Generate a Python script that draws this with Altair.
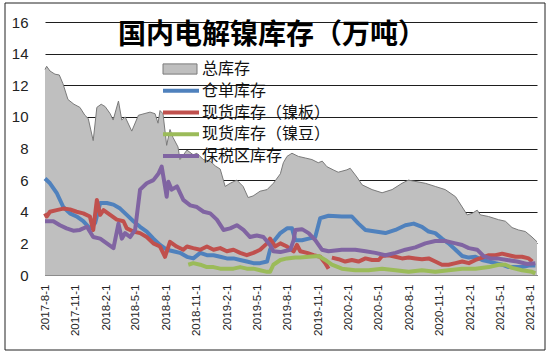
import altair as alt
import pandas as pd

# ---------------- data ----------------
series_names = ["总库存", "仓单库存", "现货库存（镍板）", "现货库存（镍豆）", "保税区库存"]
series_colors = ["#BFBFBF", "#4F81BD", "#C0504D", "#9BBB59", "#8064A2"]

tick_dates = ["2017-08-01", "2017-11-01", "2018-02-01", "2018-05-01", "2018-08-01",
              "2018-11-01", "2019-02-01", "2019-05-01", "2019-08-01", "2019-11-01",
              "2020-02-01", "2020-05-01", "2020-08-01", "2020-11-01", "2021-02-01",
              "2021-05-01", "2021-08-01"]
y_ticks = [0, 2, 4, 6, 8, 10, 12, 14, 16]

total_dates = ["2017-08-01","2017-08-06","2017-08-16","2017-08-31","2017-09-13","2017-09-24","2017-10-09","2017-10-27",
               "2017-11-14","2017-11-29","2017-12-09","2017-12-24","2018-01-04","2018-01-17","2018-01-29","2018-02-13",
               "2018-02-22","2018-03-10","2018-03-20","2018-03-30","2018-04-19","2018-05-09","2018-05-26","2018-06-13",
               "2018-06-28","2018-07-07","2018-07-13","2018-07-22","2018-08-02","2018-08-12","2018-08-21","2018-09-05",
               "2018-09-11","2018-10-02","2018-10-21","2018-11-01","2018-11-20","2018-12-11","2018-12-26","2019-01-10",
               "2019-01-25","2019-02-09","2019-03-01","2019-03-20","2019-04-04","2019-04-19","2019-05-10","2019-05-31",
               "2019-06-19","2019-07-10","2019-07-19","2019-07-30","2019-08-14","2019-09-02","2019-09-23","2019-10-13",
               "2019-11-01","2019-11-13","2019-11-27","2019-12-16","2019-12-31","2020-01-26","2020-02-05","2020-02-25",
               "2020-03-12","2020-04-11","2020-05-11","2020-06-10","2020-07-10","2020-07-29","2020-08-24","2020-09-18",
               "2020-10-18","2020-11-17","2020-12-18","2021-01-07","2021-01-22","2021-02-06","2021-02-21","2021-03-03",
               "2021-03-27","2021-04-26","2021-05-17","2021-06-06","2021-06-25","2021-07-16","2021-08-05","2021-08-20"]
total_vals = [13.0,13.2,12.9,12.7,12.65,12.1,11.1,10.8,10.6,10.1,9.9,8.5,10.6,10.8,10.65,10.2,9.8,11.0,9.8,10.0,
              9.1,10.1,10.2,10.3,10.2,9.6,10.4,10.2,8.2,9.2,8.7,8.1,7.3,7.9,7.6,7.7,7.3,7.2,6.9,6.7,
              5.6,5.8,6.0,5.6,4.9,5.0,5.3,5.4,5.8,6.4,7.1,7.5,7.7,7.5,7.4,7.3,7.1,7.2,6.85,6.65,
              6.5,6.65,6.75,6.2,5.7,5.4,5.2,5.4,5.8,6.0,5.9,5.8,5.6,5.4,4.95,4.3,3.8,3.9,4.1,3.8,
              3.7,3.5,3.4,3.0,2.85,2.75,2.4,2.1]

blue_dates = ["2017-08-01","2017-08-16","2017-09-05","2017-09-25","2017-10-15","2017-11-04","2017-11-24","2017-12-14","2017-12-30",
              "2018-01-14","2018-02-03","2018-02-23","2018-03-15","2018-04-04","2018-04-24","2018-05-14","2018-06-03","2018-06-23",
              "2018-07-13","2018-08-02","2018-08-22","2018-09-11","2018-10-02","2018-10-21","2018-11-11","2018-12-01","2018-12-21",
              "2019-01-10","2019-01-30","2019-02-19","2019-03-11","2019-03-31","2019-04-20","2019-05-10","2019-05-31","2019-06-09",
              "2019-06-19","2019-07-10","2019-07-30","2019-08-14","2019-08-24","2019-09-13","2019-10-03","2019-10-23","2019-11-07",
              "2019-12-02","2020-01-11","2020-02-10","2020-03-01","2020-03-22","2020-04-21","2020-05-21","2020-06-20","2020-07-20",
              "2020-08-14","2020-09-08","2020-09-28","2020-10-18","2020-11-07","2020-11-27","2020-12-18","2021-01-07","2021-01-27",
              "2021-02-16","2021-03-08","2021-03-28","2021-04-17","2021-05-07","2021-05-27","2021-06-16","2021-07-06","2021-07-26",
              "2021-08-15"]
blue_vals = [6.1,5.8,5.2,4.3,3.9,3.7,3.4,2.95,3.3,
             4.55,4.55,4.45,4.2,3.8,3.4,3.05,2.75,2.3,1.9,1.6,1.5,1.4,1.15,1.05,1.4,1.25,1.25,
             1.15,1.05,1.05,0.95,0.85,0.75,0.75,0.85,1.6,2.1,2.65,2.95,2.95,2.2,2.2,2.3,2.4,3.6,3.75,
             3.7,3.7,3.25,2.85,2.75,2.65,2.85,3.15,3.25,3.05,2.75,2.65,2.3,2.0,1.6,
             1.2,1.1,1.15,0.95,0.85,0.75,0.65,0.5,0.5,0.5,0.6,0.6]

# None marks the break in the spot (plate) series
red_dates = ["2017-08-01","2017-08-06","2017-08-16","2017-09-05","2017-09-25","2017-10-15","2017-11-04","2017-11-24","2017-12-14","2017-12-24",
             "2018-01-04","2018-01-14","2018-01-24","2018-02-13","2018-03-05","2018-03-25","2018-04-04","2018-04-24","2018-05-14","2018-06-03",
             "2018-06-23","2018-07-13","2018-07-28","2018-08-12","2018-09-01","2018-09-21","2018-10-02","2018-10-21","2018-11-11","2018-12-01",
             "2018-12-21","2019-01-10","2019-01-30","2019-02-19","2019-03-11","2019-03-31","2019-04-20","2019-05-10","2019-05-31","2019-06-09",
             "2019-06-24","2019-07-10","2019-07-30","2019-08-19","2019-08-29","2019-09-08","2019-09-28","2019-10-18","2019-11-07","2019-11-22",
             "2019-12-02","2019-12-07","2019-12-12","2020-01-01","2020-01-21","2020-02-10","2020-03-01","2020-03-22","2020-04-11","2020-05-01",
             "2020-05-11","2020-05-31","2020-06-20","2020-07-10","2020-07-30","2020-08-19","2020-09-08","2020-09-28","2020-10-18","2020-11-07",
             "2020-11-27","2020-12-18","2021-01-07","2021-01-27","2021-02-16","2021-03-08","2021-03-28","2021-04-17","2021-05-07","2021-05-27",
             "2021-06-16","2021-07-06","2021-07-26","2021-08-06"]
red_vals = [3.9,3.7,4.0,4.1,4.2,4.15,4.0,3.9,3.7,2.85,
            4.75,3.8,4.1,3.8,3.5,3.4,2.95,2.75,2.65,2.4,
            2.0,1.8,1.15,2.1,1.8,1.6,1.8,1.7,1.6,1.8,
            1.6,1.7,1.5,1.6,1.4,1.25,1.4,1.6,2.0,2.3,
            1.8,2.0,1.8,1.5,1.9,1.5,1.4,1.25,1.15,0.75,
            0.4,None,1.1,1.0,0.85,0.95,0.85,1.05,0.95,0.95,
            1.2,1.25,1.15,1.05,1.1,1.05,1.0,1.05,0.85,0.65,
            0.65,0.75,0.85,0.75,0.95,1.1,1.25,1.25,1.35,1.25,
            1.15,1.15,1.05,0.85]

green_dates = ["2018-10-06","2018-10-21","2018-11-11","2018-12-01","2018-12-21",
               "2019-01-10","2019-01-30","2019-02-19","2019-03-11","2019-03-31","2019-04-20","2019-05-10","2019-05-31","2019-06-09",
               "2019-06-19","2019-07-10","2019-07-30","2019-08-24","2019-09-08","2019-10-03","2019-11-02","2019-11-22","2019-12-12",
               "2020-01-11","2020-02-20","2020-03-31","2020-05-11","2020-06-20","2020-07-30","2020-09-08","2020-10-18","2020-11-27",
               "2021-01-07","2021-02-16","2021-03-28","2021-04-27","2021-05-17","2021-06-06","2021-07-06","2021-08-05","2021-08-15"]
green_vals = [0.65,0.75,0.65,0.5,0.5,
              0.4,0.4,0.4,0.5,0.4,0.4,0.3,0.2,0.2,0.65,0.95,1.05,1.1,1.1,1.15,1.2,0.95,0.65,
              0.4,0.3,0.3,0.4,0.3,0.2,0.3,0.2,0.3,
              0.4,0.4,0.5,0.65,0.65,0.45,0.3,0.2,0.1]

purple_dates = ["2017-08-01","2017-08-26","2017-09-15","2017-10-05","2017-10-25","2017-11-14","2017-12-05","2017-12-24",
                "2018-01-14","2018-02-03","2018-02-23","2018-03-10","2018-03-20","2018-03-30","2018-04-14","2018-04-29",
                "2018-05-14","2018-06-03","2018-06-23","2018-07-08","2018-07-18","2018-07-28","2018-08-02","2018-08-07",
                "2018-08-17","2018-09-02","2018-09-21","2018-10-12","2018-11-01","2018-11-21","2018-12-11","2018-12-31",
                "2019-01-20","2019-02-09","2019-03-01","2019-03-21","2019-04-10","2019-04-30","2019-05-20","2019-06-09",
                "2019-06-19","2019-07-10","2019-08-09","2019-08-19","2019-08-24","2019-09-13","2019-10-03","2019-10-23",
                "2019-11-12","2019-12-02","2020-01-11","2020-02-20","2020-03-22","2020-04-21","2020-05-21","2020-06-20",
                "2020-07-20","2020-08-19","2020-09-18","2020-10-18","2020-11-17","2020-12-18","2021-01-07","2021-01-27",
                "2021-02-21","2021-03-12","2021-04-02","2021-04-22","2021-05-22","2021-06-21","2021-07-21","2021-08-15"]
purple_vals = [3.4,3.4,3.15,2.95,2.8,2.85,3.05,2.4,
               2.3,2.0,1.7,3.25,2.3,2.65,2.4,2.85,5.4,5.8,6.0,6.4,6.85,5.6,4.95,5.9,5.4,5.6,4.75,4.4,4.3,4.0,3.9,3.5,
               2.85,2.95,3.15,2.85,2.4,2.5,2.4,1.9,1.5,1.45,1.6,2.2,2.85,2.9,2.65,2.2,1.6,1.5,
               1.6,1.6,1.5,1.4,1.25,1.4,1.6,1.75,2.0,2.15,2.15,2.0,
               1.9,1.7,1.6,1.2,1.05,1.05,0.95,0.85,0.7,0.75]

title_text = "国内电解镍库存（万吨）"


# ---------------- helpers ----------------
def make_df(name, dates, vals):
    assert len(dates) == len(vals), name
    df = pd.DataFrame({"date": dates, "value": vals})
    df["series"] = name
    df["seg"] = df["value"].isna().cumsum()
    return df.dropna()


def dt(s):
    y, m, d = (int(p) for p in s.split("-"))
    return alt.DateTime(year=y, month=m, date=d, utc=True)


x_enc = alt.X(
    "date:T",
    scale=alt.Scale(type="utc", domain=[dt(total_dates[0]), dt(total_dates[-1])]),
    axis=alt.Axis(
        values=[dt(s) for s in tick_dates],
        format="%Y-%-m-%-d",
        labelAngle=-90,
        labelFont="Liberation Sans",
        labelFontSize=11.5,
        labelColor="#222222",
        labelPadding=9,
        ticks=False,
        grid=False,
        domain=True,
        domainColor="#8C8C8C",
        title=None,
        labelOverlap=False,
    ),
)
y_enc = alt.Y(
    "value:Q",
    scale=alt.Scale(domain=[0, 16], nice=False),
    axis=alt.Axis(
        values=y_ticks,
        grid=True,
        gridColor="#1E1E1E",
        gridWidth=1.2,
        domain=False,
        ticks=False,
        labelFont="Liberation Sans",
        labelFontSize=15,
        labelColor="#222222",
        labelPadding=17,
        title=None,
    ),
)

total_df = make_df(series_names[0], total_dates, total_vals)
area = alt.Chart(total_df).mark_area(
    color=series_colors[0], opacity=1,
    line={"color": "#7A7A7A", "strokeWidth": 1},
).encode(x=x_enc, y=y_enc)

line_layers = []
for name, col, dts, vls in [
    (series_names[1], series_colors[1], blue_dates, blue_vals),
    (series_names[2], series_colors[2], red_dates, red_vals),
    (series_names[3], series_colors[3], green_dates, green_vals),
    (series_names[4], series_colors[4], purple_dates, purple_vals),
]:
    line_layers.append(
        alt.Chart(make_df(name, dts, vls)).mark_line(
            color=col, strokeWidth=4, strokeJoin="round"
        ).encode(x=x_enc, y=y_enc, detail="seg:N")
    )

main = alt.layer(area, *line_layers)

# ---------------- legend (inside the plot) ----------------
legend_df = pd.DataFrame({"name": series_names})
leg_y = alt.Y("name:N", scale=alt.Scale(type="point", domain=series_names, range=[47, 134], padding=0), axis=None)
leg_color = alt.Color("name:N", scale=alt.Scale(domain=series_names, range=series_colors), legend=None)

leg_box = alt.Chart(legend_df).transform_filter(
    alt.datum.name == series_names[0]
).mark_point(
    shape="M-1,-0.3H1V0.3H-1Z", size=1156, filled=True, fill=series_colors[0],
    stroke="#7A7A7A", strokeWidth=1, opacity=1,
).encode(x=alt.value(135), y=leg_y)

leg_lines = alt.Chart(legend_df).transform_filter(
    alt.datum.name != series_names[0]
).mark_rule(strokeWidth=4).encode(
    x=alt.value(118), x2=alt.value(154), y=leg_y, color=leg_color
)

leg_text = alt.Chart(legend_df).mark_text(
    align="left", baseline="middle", font="Noto Sans CJK SC", fontSize=16, color="#111111"
).encode(x=alt.value(157), y=leg_y, text="name:N")

legend = alt.layer(leg_box, leg_lines, leg_text)

# ---------------- title and outer frame ----------------
title = alt.Chart(alt.Data(values=[{}])).mark_text(
    text=title_text, font="Noto Sans CJK SC", fontSize=28, fontWeight="bold",
    color="black", align="center", baseline="middle",
).encode(x=alt.value(227), y=alt.value(14))

frame = alt.Chart(alt.Data(values=[{}])).mark_rect(
    fillOpacity=0, stroke="#222222", strokeWidth=1
).encode(x=alt.value(-40), x2=alt.value(500), y=alt.value(-19), y2=alt.value(328))

chart = alt.layer(main, legend, title, frame).resolve_scale(
    y="independent"
).properties(
    width=492,
    height=253,
    autosize=alt.AutoSizeParams(type="none"),
    padding={"left": 45, "top": 22, "right": 13, "bottom": 80},
    background="white",
).configure_view(stroke=None)

chart.save("out.html", embed_options={"renderer": "svg", "actions": False})
